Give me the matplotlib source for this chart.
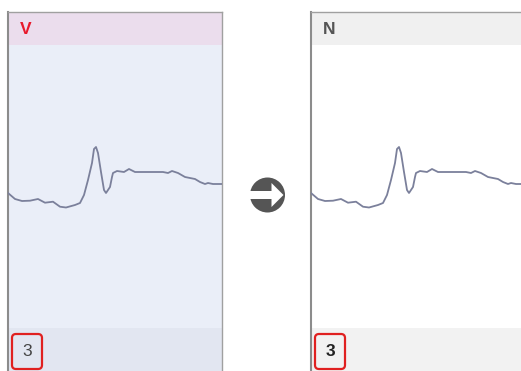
import matplotlib
matplotlib.use("Agg")
import matplotlib.pyplot as plt
from matplotlib.patches import Rectangle, FancyBboxPatch, Circle, Polygon

plt.rcParams["font.family"] = ["Liberation Sans", "DejaVu Sans"]

# Beat trace, sampled at pixel offsets across the panel width
sample_pos = [0, 7, 14, 22, 30, 37, 45, 52, 58, 67, 72, 76, 80, 84, 86, 88, 90,
              93, 96, 98, 102, 104, 105, 109, 116, 121, 127, 142, 155, 160,
              164, 170, 177, 187, 192, 197, 200, 205, 214]
amplitude = [7, 1, -1, -0.7, 1, -2.7, -1.7, -6.7, -7.5, -5, -3, 5, 20, 37, 51, 53, 47,
             28, 10, 7, 13, 23, 27, 29, 28, 31, 28, 28, 28, 27,
             29, 27, 23, 21, 18, 16, 17, 16, 16]

panel_labels = ["V", "N"]
beat_counts = ["3", "3"]

W, H = 521, 371
fig = plt.figure(figsize=(W / 100, H / 100), dpi=100)
bg = fig.add_axes([0, 0, 1, 1])
bg.set_xlim(0, W)
bg.set_ylim(H, 0)
bg.axis("off")

panels = [
    dict(x0=8, header="#ebdded", body="#eaeef8", footer="#e2e6f1",
         label_color="#e8192c", count_weight="normal", count_color="#444444",
         right_border=True),
    dict(x0=311, header="#f0f0f0", body="#ffffff", footer="#f2f2f2",
         label_color="#555555", count_weight="bold", count_color="#222222",
         right_border=False),
]
pw = 214
top, head_bot, foot_top = 12, 45, 328

for p, label, count in zip(panels, panel_labels, beat_counts):
    x0 = p["x0"]
    bg.add_patch(Rectangle((x0, top), pw, head_bot - top, color=p["header"], lw=0))
    bg.add_patch(Rectangle((x0, head_bot), pw, foot_top - head_bot, color=p["body"], lw=0))
    bg.add_patch(Rectangle((x0, foot_top), pw, H - foot_top, color=p["footer"], lw=0))
    bg.plot([x0, x0], [top, H], color="#8c8c8c", lw=1.5)
    bg.plot([x0, x0 + pw], [top, top], color="#a0a0a0", lw=1.0)
    if p["right_border"]:
        bg.plot([x0 + pw, x0 + pw], [top, H], color="#a0a0a0", lw=1.0)
    bg.text(x0 + 18, 29, label, color=p["label_color"], fontsize=12.5,
            fontweight="bold", ha="center", va="center")
    bg.text(x0 + 19, 352, count, color=p["count_color"], fontsize=12.5,
            fontweight=p["count_weight"], ha="center", va="center")
    bg.add_patch(FancyBboxPatch((x0 + 4, 334), 30, 35,
                                boxstyle="round,pad=0,rounding_size=4",
                                fill=False, ec="#e02020", lw=1.6))

    ax = fig.add_axes([x0 / W, (H - foot_top) / H, pw / W, (foot_top - head_bot) / H])
    ax.set_xlim(0, pw)
    ax.set_ylim(-128, 155)
    ax.axis("off")
    ax.patch.set_alpha(0)
    ax.plot(sample_pos, amplitude, color="#7b809b", lw=1.3, solid_joinstyle="round")

# arrow between panels
cx, cy, r = 267.5, 195, 17.5
bg.add_patch(Circle((cx, cy), r, color="#555555", lw=0))
bg.add_patch(Rectangle((cx - r - 1, cy - 4), 24, 8, color="white", lw=0))
bg.add_patch(Polygon([(cx + 4, cy - 12), (cx + 16, cy), (cx + 4, cy + 12)],
                     closed=True, color="white", lw=0))

fig.savefig("out.png", dpi=100)
